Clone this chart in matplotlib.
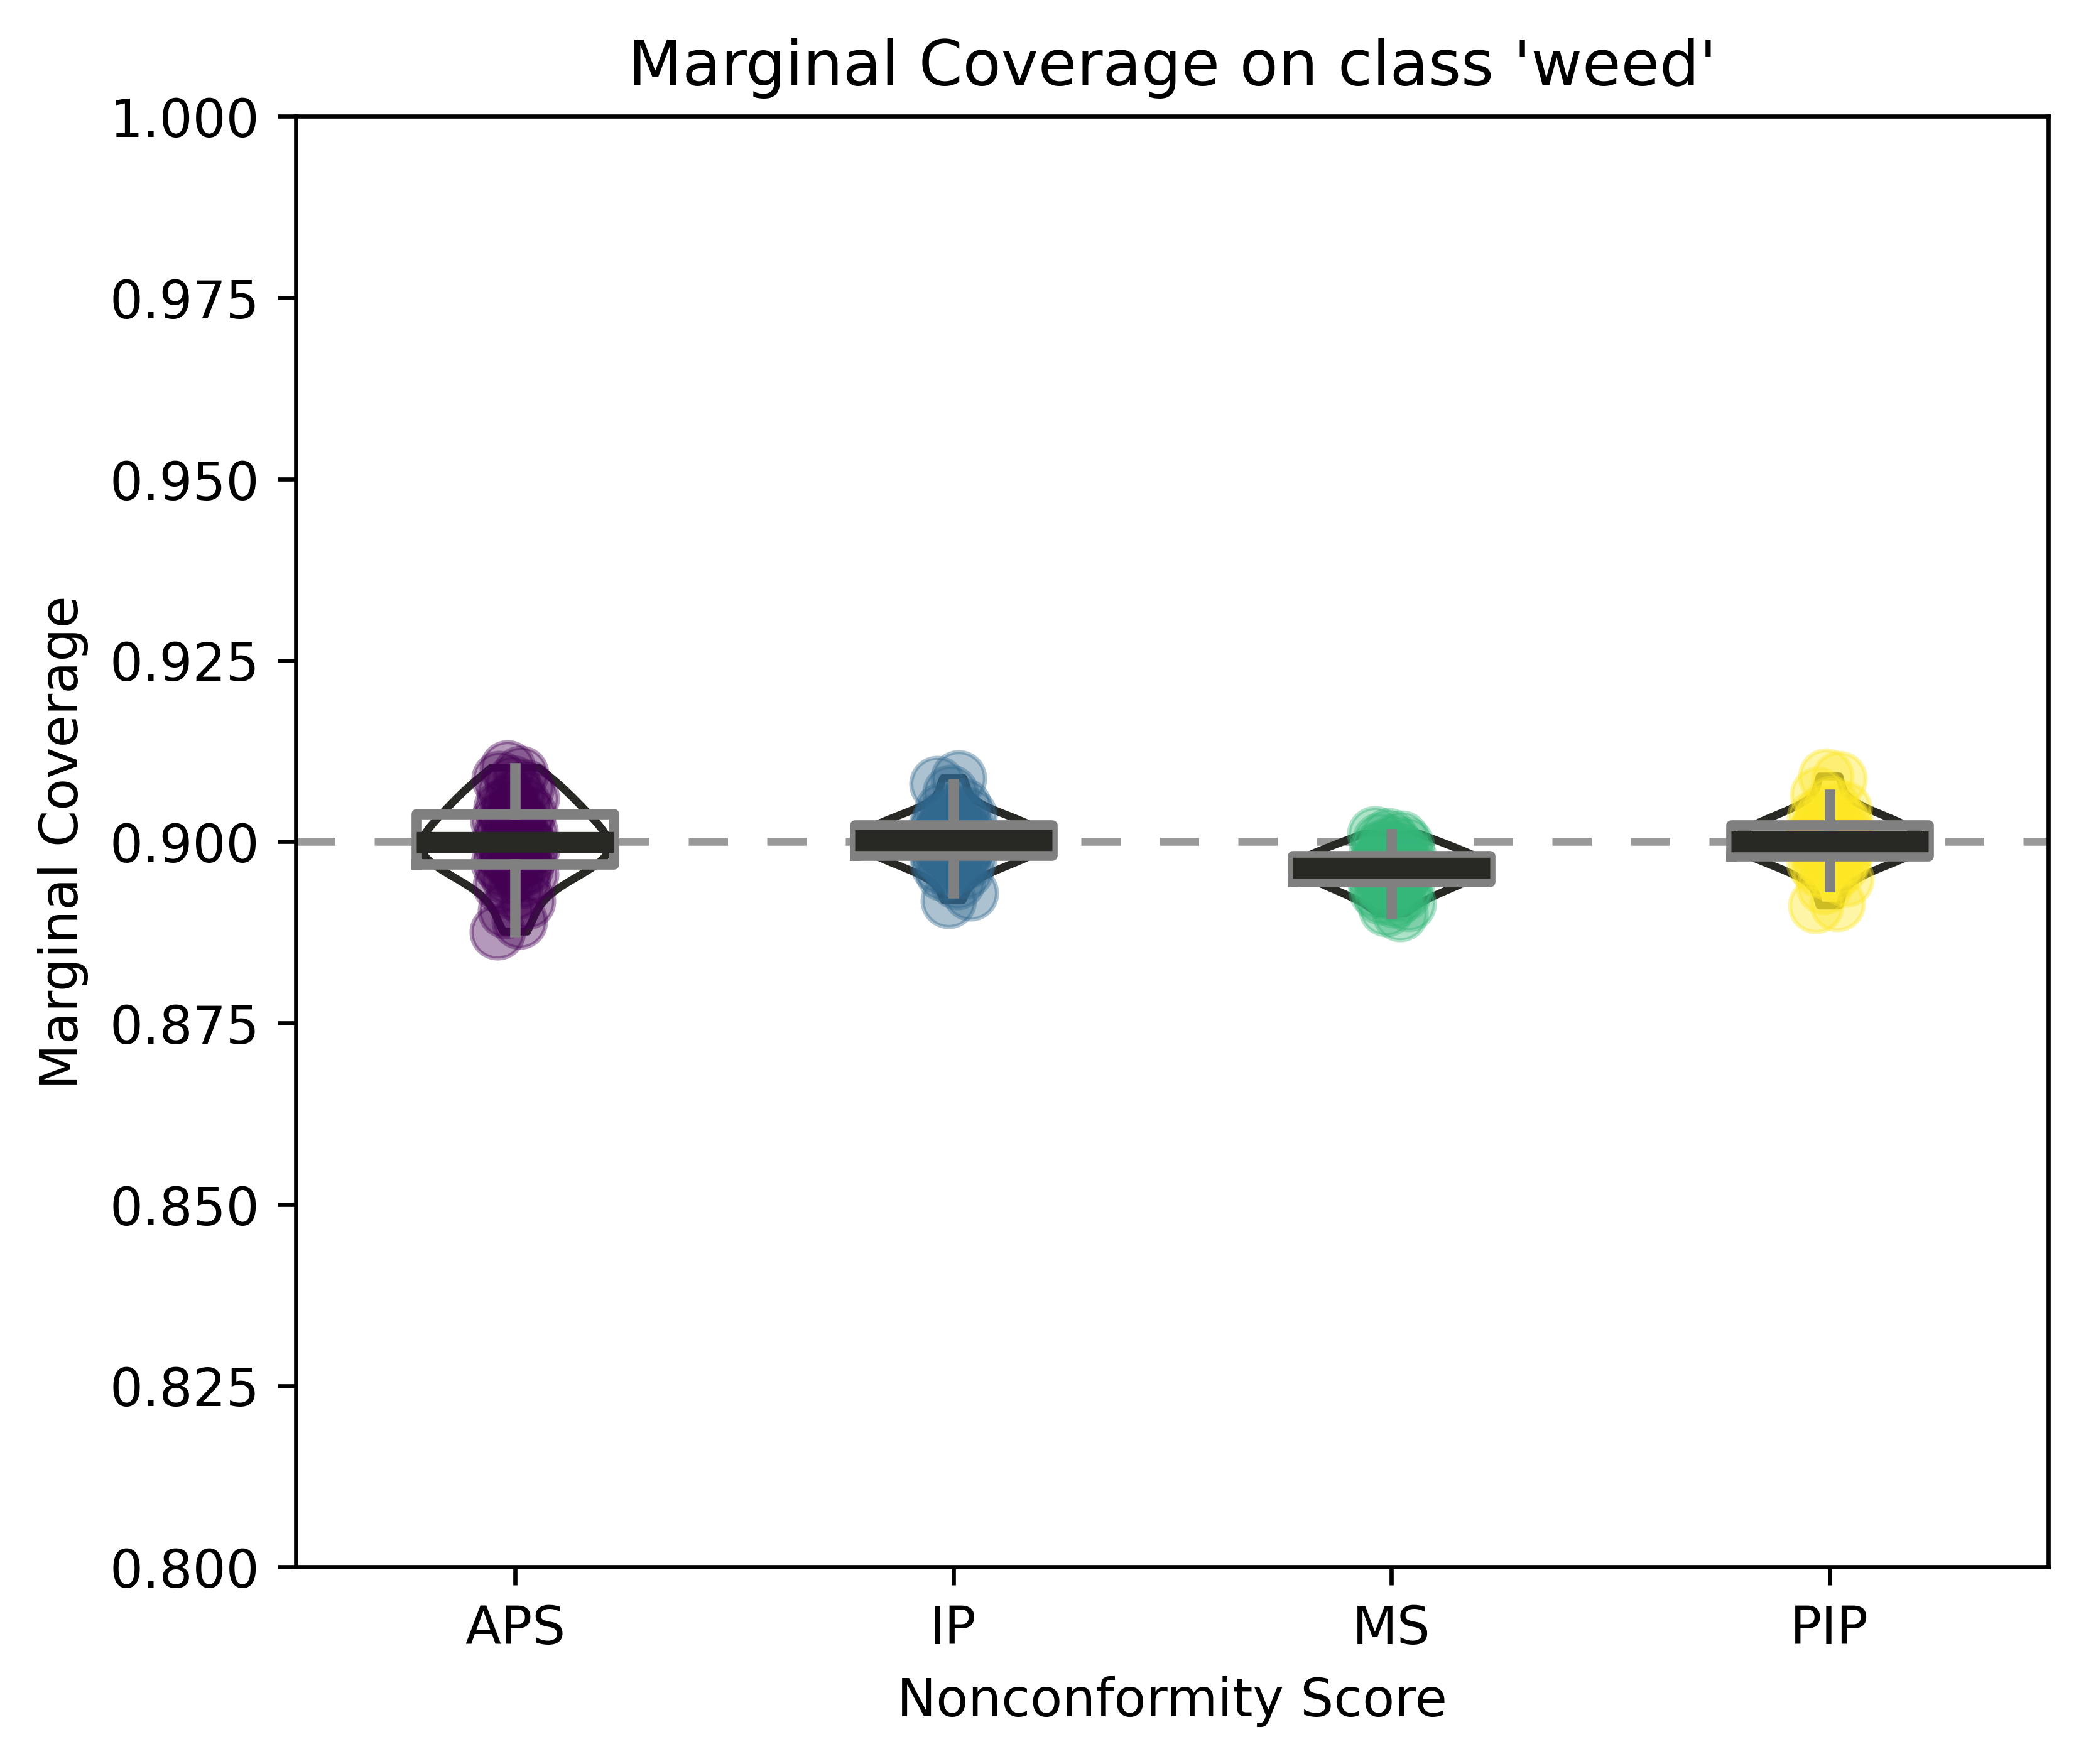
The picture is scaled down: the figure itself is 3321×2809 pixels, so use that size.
import numpy as np
import matplotlib
matplotlib.use("Agg")
import matplotlib.pyplot as plt
from matplotlib.ticker import FormatStrFormatter

# ---------------- data ----------------
categories = ["APS", "IP", "MS", "PIP"]

aps = [0.8876, 0.8890, 0.8905, 0.8918, 0.8930, 0.8940, 0.8947, 0.8951, 0.8955, 0.8959,
       0.8962, 0.8965, 0.8968, 0.8971, 0.8974, 0.8977, 0.8979, 0.8982, 0.8984, 0.8987,
       0.8989, 0.8992, 0.8994, 0.8996, 0.8999,
       0.9000, 0.9004, 0.9007, 0.9010, 0.9013, 0.9016, 0.9019, 0.9022, 0.9026, 0.9029,
       0.9032, 0.9036, 0.9039, 0.9043, 0.9047, 0.9051, 0.9055, 0.9060, 0.9065, 0.9069,
       0.9075, 0.9081, 0.9087, 0.9094, 0.9102]

ip = [0.8919, 0.8929, 0.8945, 0.8956, 0.8960, 0.8964, 0.8967, 0.8970, 0.8972, 0.8975,
      0.8977, 0.8979, 0.8981, 0.8983, 0.8985, 0.8987, 0.8988, 0.8990, 0.8992, 0.8993,
      0.8995, 0.8997, 0.8998, 0.9000, 0.9001,
      0.9003, 0.9004, 0.9006, 0.9007, 0.9009, 0.9011, 0.9012, 0.9014, 0.9016, 0.9017,
      0.9019, 0.9021, 0.9023, 0.9025, 0.9027, 0.9029, 0.9032, 0.9034, 0.9037, 0.9040,
      0.9044, 0.9050, 0.9068, 0.9080, 0.9088]

ms = [0.8901, 0.8908, 0.8915, 0.8920, 0.8924, 0.8928, 0.8931, 0.8933, 0.8936, 0.8938,
      0.8940, 0.8942, 0.8944, 0.8946, 0.8948, 0.8949, 0.8951, 0.8953, 0.8954, 0.8956,
      0.8957, 0.8959, 0.8960, 0.8962, 0.8963,
      0.8965, 0.8966, 0.8967, 0.8969, 0.8970, 0.8971, 0.8973, 0.8974, 0.8975, 0.8977,
      0.8978, 0.8980, 0.8981, 0.8983, 0.8985, 0.8987, 0.8989, 0.8991, 0.8993, 0.8996,
      0.8999, 0.9002, 0.9005, 0.9008, 0.9011]

pip = [0.8912, 0.8915, 0.8938, 0.8948, 0.8955, 0.8961, 0.8966, 0.8969, 0.8971, 0.8973,
       0.8976, 0.8978, 0.8980, 0.8981, 0.8983, 0.8985, 0.8987, 0.8988, 0.8990, 0.8992,
       0.8993, 0.8995, 0.8996, 0.8998, 0.8999,
       0.9001, 0.9003, 0.9004, 0.9006, 0.9008, 0.9010, 0.9011, 0.9013, 0.9015, 0.9016,
       0.9018, 0.9021, 0.9023, 0.9025, 0.9027, 0.9029, 0.9031, 0.9033, 0.9036, 0.9040,
       0.9045, 0.9052, 0.9065, 0.9087, 0.9090]

target_coverage = 0.9
y_ticks = [0.800, 0.825, 0.850, 0.875, 0.900, 0.925, 0.950, 0.975, 1.000]

title = "Marginal Coverage on class 'weed'"
x_label = "Nonconformity Score"
y_label = "Marginal Coverage"

# ---------------- plot ----------------
data = [aps, ip, ms, pip]
pos = np.arange(len(categories))
colors = [plt.cm.viridis(v) for v in np.linspace(0, 1, len(categories))]
dark = "#282824"
gray = "#808080"

fig, ax = plt.subplots(figsize=(6, 5), dpi=600)

ax.axhline(target_coverage, color="#999999", lw=1.5, ls=(0, (5, 5)), zorder=1)

vp = ax.violinplot(data, positions=pos, widths=0.43, showextrema=False)
for b in vp["bodies"]:
    b.set_facecolor("none")
    b.set_edgecolor(dark)
    b.set_linewidth(1.5)
    b.set_alpha(1)
    b.set_zorder(2)

golden = 0.6180339887
for i, (vals, c) in enumerate(zip(data, colors)):
    n = len(vals)
    offs = 0.04 * (2 * ((np.arange(n) * golden + 0.37 * i) % 1) - 1)
    ax.scatter(pos[i] + offs, vals, s=100, color=c, alpha=0.4,
               linewidths=0.8, edgecolors=[c], zorder=3)

ax.boxplot(data, positions=pos, widths=0.45, showfliers=False, showcaps=False,
           boxprops=dict(color=gray, linewidth=2),
           whiskerprops=dict(color=gray, linewidth=2),
           medianprops=dict(color=dark, linewidth=4, solid_capstyle="butt"),
           zorder=4)

ax.set_xlim(-0.5, len(categories) - 0.5)
ax.set_xticks(pos)
ax.set_xticklabels(categories)
ax.set_ylim(0.8, 1.0)
ax.set_yticks(y_ticks)
ax.yaxis.set_major_formatter(FormatStrFormatter("%.3f"))
ax.tick_params(labelsize=10)
ax.set_xlabel(x_label, fontsize=10)
ax.set_ylabel(y_label, fontsize=10)
ax.set_title(title, fontsize=12)

fig.savefig("out.png", dpi=600, bbox_inches="tight")
